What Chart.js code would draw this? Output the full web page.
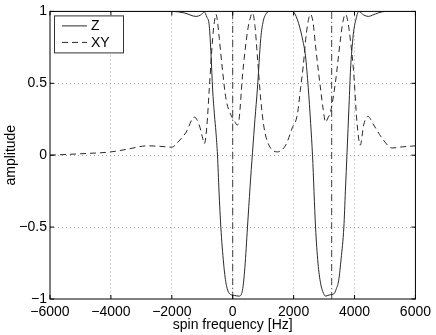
<!DOCTYPE html>
<html>
<head>
<meta charset="utf-8">
<script src="https://cdn.jsdelivr.net/npm/chart.js@4/dist/chart.umd.min.js"></script>
<style>
  html, body { margin: 0; padding: 0; background: #fff; }
  canvas { display: block; }
</style>
</head>
<body>
<canvas id="c" width="436" height="335"></canvas>
<script>
// ---- data ----
const zFreq = [-6000, -3000, -2000, -1600, -1200, -1050, -930, -850, -770, -710, -660, -600, -550, -500, -450, -390, -300, -220, -115, 50, 210, 320, 400, 485, 570, 650, 730, 810, 920, 1000, 1085, 1200, 1950, 2050, 2200, 2300, 2390, 2480, 2560, 2620, 2720, 2800, 2885, 2960, 3050, 3200, 3320, 3400, 3480, 3560, 3650, 3700, 3755, 3820, 3870, 3920, 3970, 4030, 4140, 4300, 4460, 4600, 4790, 5010, 6000];
const zAmp  = [1, 1, 1, 0.99, 0.965, 0.975, 0.995, 0.96, 0.90, 0.69, 0.46, 0.28, 0.16, 0.0, -0.25, -0.50, -0.75, -0.89, -0.96, -0.975, -0.98, -0.94, -0.78, -0.5, -0.22, 0.02, 0.25, 0.46, 0.81, 0.93, 0.98, 1.0, 1.0, 0.98, 0.89, 0.80, 0.69, 0.47, 0.22, 0.0, -0.5, -0.75, -0.89, -0.95, -0.98, -0.97, -0.965, -0.93, -0.87, -0.72, -0.5, -0.25, 0.02, 0.35, 0.6, 0.75, 0.86, 0.93, 1.0, 0.975, 0.965, 0.975, 0.99, 1.0, 1.0];

const xyFreq = [-6000, -5000, -4000, -3500, -2800, -2400, -2000, -1800, -1530, -1260, -1100, -1000, -930, -850, -770, -660, -600, -550, -500, -440, -330, -220, -60, 50, 150, 210, 320, 485, 570, 650, 730, 810, 920, 1030, 1190, 1465, 1740, 1955, 2120, 2220, 2315, 2420, 2555, 2640, 2720, 2885, 2970, 3050, 3130, 3210, 3375, 3540, 3620, 3700, 3780, 3865, 3970, 4080, 4190, 4300, 4440, 4630, 4900, 5230, 5560, 6000];
const xyAmp  = [0, 0.01, 0.023, 0.04, 0.065, 0.062, 0.056, 0.09, 0.16, 0.265, 0.21, 0.13, 0.08, 0.2, 0.46, 0.81, 0.93, 0.98, 0.93, 0.81, 0.58, 0.39, 0.28, 0.24, 0.21, 0.25, 0.55, 0.86, 0.95, 0.99, 0.9, 0.69, 0.39, 0.19, 0.07, 0.023, 0.07, 0.19, 0.28, 0.45, 0.62, 0.85, 0.98, 0.92, 0.76, 0.46, 0.32, 0.23, 0.26, 0.30, 0.51, 0.81, 0.93, 0.98, 0.93, 0.80, 0.58, 0.23, 0.07, 0.21, 0.27, 0.21, 0.12, 0.05, 0.058, 0.065];

const markerFreqs = [0, 3250];
const markerRange = [-1, 1];

const xTicks = [-6000, -4000, -2000, 0, 2000, 4000, 6000];
const yTicks = [-1, -0.5, 0, 0.5, 1];

const seriesLabels = ['Z', 'XY'];

// ---- build datasets ----
const toPts = (xs, ys) => xs.map((x, i) => ({x: x, y: ys[i]}));
const datasets = [
  { label: seriesLabels[0], data: toPts(zFreq, zAmp), borderColor: '#2a2a2a', borderWidth: 1, borderDash: [] },
  { label: seriesLabels[1], data: toPts(xyFreq, xyAmp), borderColor: '#2a2a2a', borderWidth: 1, borderDash: [6, 4] }
];
markerFreqs.forEach(f => {
  datasets.push({ label: '', data: markerRange.map(v => ({x: f, y: v})), borderColor: '#3a3a3a', borderWidth: 1, borderDash: [7, 3, 1, 3], isMarker: true });
});
datasets.forEach(d => { d.showLine = true; d.pointRadius = 0; d.fill = false; d.cubicInterpolationMode = 'monotone'; });

const FONT = "'Liberation Sans', Arial, Helvetica, sans-serif";
const fmt = v => String(v).replace('-', '\u2212');

const boxPlugin = {
  id: 'box',
  afterDraw(chart) {
    const {ctx, chartArea: a} = chart;
    const xs = chart.scales.x, ys = chart.scales.y;
    ctx.save();
    ctx.strokeStyle = '#000';
    ctx.lineWidth = 1;
    ctx.setLineDash([]);
    ctx.strokeRect(a.left, a.top, a.right - a.left, a.bottom - a.top);
    // inward ticks
    ctx.beginPath();
    const tl = 4;
    xTicks.forEach(t => {
      const px = xs.getPixelForValue(t);
      ctx.moveTo(px, a.bottom); ctx.lineTo(px, a.bottom - tl);
      ctx.moveTo(px, a.top); ctx.lineTo(px, a.top + tl);
    });
    yTicks.forEach(t => {
      const py = ys.getPixelForValue(t);
      ctx.moveTo(a.left, py); ctx.lineTo(a.left + tl, py);
      ctx.moveTo(a.right, py); ctx.lineTo(a.right - tl, py);
    });
    ctx.stroke();
    // legend
    const lx = a.left + 4, ly = a.top + 4, lw = 69, lh = 37;
    ctx.fillStyle = '#fff';
    ctx.fillRect(lx, ly, lw, lh);
    ctx.strokeStyle = '#333';
    ctx.strokeRect(lx + 0.5, ly + 0.5, lw, lh);
    ctx.font = '14px ' + FONT;
    ctx.textBaseline = 'middle';
    ctx.textAlign = 'left';
    chart.data.datasets.filter(d => !d.isMarker).forEach((d, i) => {
      const yy = ly + 10 + i * 16.5;
      ctx.strokeStyle = d.borderColor;
      ctx.lineWidth = 1;
      ctx.setLineDash(d.borderDash || []);
      ctx.beginPath();
      ctx.moveTo(lx + 8, yy + 0.5); ctx.lineTo(lx + 33, yy + 0.5);
      ctx.stroke();
      ctx.setLineDash([]);
      ctx.fillStyle = '#000';
      ctx.fillText(d.label, lx + 37, yy + 1);
    });
    ctx.restore();
  }
};

new Chart(document.getElementById('c'), {
  type: 'scatter',
  data: { datasets: datasets },
  options: {
    responsive: false,
    animation: false,
    layout: { padding: { top: 11, right: 19, left: 0, bottom: 0 } },
    plugins: { legend: { display: false }, tooltip: { enabled: false } },
    scales: {
      x: {
        type: 'linear', min: -6000, max: 6000,
        afterBuildTicks: s => { s.ticks = xTicks.map(v => ({value: v})); },
        afterFit: s => { s.height = 36; },
        ticks: { callback: v => fmt(v), color: '#000', font: { family: FONT, size: 14 }, padding: 5, maxRotation: 0, autoSkip: false },
        grid: { color: c => (c.tick && (c.tick.value === -6000 || c.tick.value === 6000)) ? 'rgba(0,0,0,0)' : '#a8a8a8', drawTicks: false, tickLength: 0, lineWidth: 1 },
        border: { display: false, dash: [1, 3] },
        title: { display: true, text: 'spin frequency [Hz]', color: '#000', font: { family: FONT, size: 14 }, padding: { top: 0, bottom: 1 } }
      },
      y: {
        type: 'linear', min: -1, max: 1,
        afterBuildTicks: s => { s.ticks = yTicks.map(v => ({value: v})); },
        afterFit: s => { s.width = 50; },
        ticks: { callback: v => fmt(v), color: '#000', font: { family: FONT, size: 14 }, padding: 3, autoSkip: false },
        grid: { color: c => (c.tick && (c.tick.value === -1 || c.tick.value === 1)) ? 'rgba(0,0,0,0)' : '#a8a8a8', drawTicks: false, tickLength: 0, lineWidth: 1 },
        border: { display: false, dash: [1, 3] },
        title: { display: true, text: 'amplitude', color: '#000', font: { family: FONT, size: 14 }, padding: { top: 3, bottom: 0 } }
      }
    }
  },
  plugins: [boxPlugin]
});
</script>
</body>
</html>
